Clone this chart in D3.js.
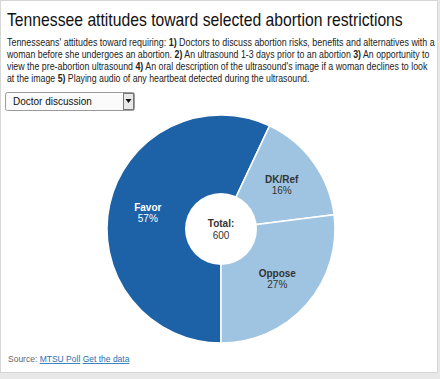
<!DOCTYPE html>
<html><head><meta charset="utf-8">
<script src="https://cdn.jsdelivr.net/npm/d3@7"></script>
<style>
html,body{margin:0;padding:0;background:#fff;}
svg{display:block;font-family:Arial,"Liberation Sans",sans-serif;}
</style></head>
<body>
<svg id="chart" width="440" height="379"></svg>
<script>
const categories = ["Favor", "DK/Ref", "Oppose"];
const values = [57, 16, 27];
const total = 600;
const sliceColors = ["#1d61a6", "#9fc4e2", "#9fc4e2"];
const labelColors = ["#ffffff", "#333333", "#333333"];
const selected = "Doctor discussion";
const titleText = "Tennessee attitudes toward selected abortion restrictions";
const descLines = [
  [["Tennesseans' attitudes toward requiring: ",0],["1)",1],[" Doctors to discuss abortion risks, benefits and alternatives with a",0]],
  [["woman before she undergoes an abortion. ",0],["2)",1],[" An ultrasound 1-3 days prior to an abortion ",0],["3)",1],[" An opportunity to",0]],
  [["view the pre-abortion ultrasound ",0],["4)",1],[" An oral description of the ultrasound's image if a woman declines to look",0]],
  [["at the image ",0],["5)",1],[" Playing audio of any heartbeat detected during the ultrasound.",0]]
];
const descWidths = [428, 423, 421, 303];

const svg = d3.select("#chart");
// frame
svg.append("rect").attr("x",0.5).attr("y",0.5).attr("width",437).attr("height",372)
  .attr("fill","#fff").attr("stroke","#d6d6d6");
svg.append("rect").attr("x",0).attr("y",373).attr("width",440).attr("height",6).attr("fill","#e8e8e8");
svg.append("rect").attr("x",438).attr("y",0).attr("width",2).attr("height",379).attr("fill","#e8e8e8");

function fitText(sel, x, y, w){
  const n = sel.node().getComputedTextLength();
  const s = w / n;
  sel.attr("x",0).attr("y",0).attr("transform",`translate(${x},${y}) scale(${s},1)`);
}

const title = svg.append("text").attr("font-size",17.5).attr("fill","#111").text(titleText);
fitText(title, 7, 26, 396);

descLines.forEach((line,i)=>{
  const t = svg.append("text").attr("font-size",10.3).attr("fill","#222");
  line.forEach(([s,b])=>{
    t.append("tspan").attr("font-weight",b?"bold":"normal").text(s);
  });
  fitText(t, 7, 46+i*12, descWidths[i]);
});

// dropdown
const dd = svg.append("g");
dd.append("rect").attr("x",5.5).attr("y",92.5).attr("width",129).attr("height",18).attr("rx",2)
  .attr("fill","#fbfbfb").attr("stroke","#9a9a9a");
dd.append("rect").attr("x",123.5).attr("y",93.5).attr("width",10).attr("height",16)
  .attr("fill","#e8e8e8").attr("stroke","#777");
dd.append("path").attr("d","M125.5,99 L131.5,99 L128.5,103 Z").attr("fill","#111");
dd.append("text").attr("x",13).attr("y",105).attr("font-size",10).attr("fill","#111").text(selected);

// pie
const cx = 221, cy = 229, outerR = 114, innerR = 36;
const data = categories.map((c,i)=>({cat:c, value:values[i], color:sliceColors[i], lc:labelColors[i]}));
const pie = d3.pie().value(d=>d.value).sort(null).startAngle(Math.PI).endAngle(3*Math.PI);
const arc = d3.arc().innerRadius(0).outerRadius(outerR);
const labelArc = d3.arc().innerRadius(innerR).outerRadius(outerR);
const g = svg.append("g").attr("transform",`translate(${cx},${cy})`);
const arcs = pie(data);
g.selectAll("path.slice").data(arcs).join("path").attr("class","slice")
  .attr("d",arc).attr("fill",d=>d.data.color).attr("stroke","#fff").attr("stroke-width",1.5);
g.append("circle").attr("r",innerR).attr("fill","#fff");
const lbl = g.selectAll("text.lbl").data(arcs).join("text").attr("class","lbl")
  .attr("transform",d=>`translate(${labelArc.centroid(d)})`)
  .attr("text-anchor","middle").attr("font-size",10).attr("fill",d=>d.data.lc);
lbl.append("tspan").attr("x",0).attr("dy","-0.15em").attr("font-weight","bold").text(d=>d.data.cat);
lbl.append("tspan").attr("x",0).attr("dy","1.1em").text(d=>d.data.value+"%");

const tt = g.append("text").attr("text-anchor","middle").attr("font-size",10).attr("fill","#333");
tt.append("tspan").attr("x",0).attr("y",-2).attr("font-weight","bold").text("Total:");
tt.append("tspan").attr("x",0).attr("y",10).text(total);

// source
const src = svg.append("text").attr("x",8).attr("y",362).attr("font-size",8.5).attr("fill","#666");
src.append("tspan").text("Source: ");
src.append("tspan").attr("fill","#1f6fb2").attr("text-decoration","underline").text("MTSU Poll");
src.append("tspan").text(" ");
src.append("tspan").attr("fill","#1f6fb2").attr("text-decoration","underline").text("Get the data");
</script>
</body></html>
